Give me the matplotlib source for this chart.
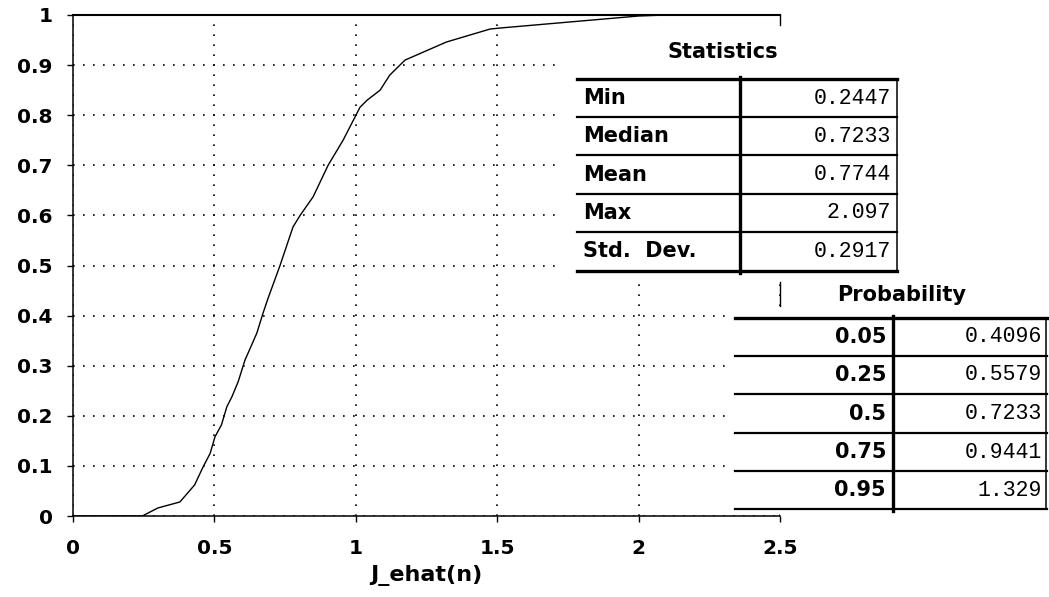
import numpy as np
import matplotlib.pyplot as plt
from matplotlib.patches import Rectangle
from matplotlib.lines import Line2D

x_vals = [0, 0.245, 0.30, 0.378, 0.43, 0.46, 0.485, 0.502, 0.525, 0.544, 0.562,
          0.584, 0.608, 0.65, 0.672, 0.69, 0.732, 0.778, 0.803, 0.849, 0.902,
          0.955, 1.015, 1.04, 1.086, 1.12, 1.156, 1.174, 1.32, 1.475, 1.51,
          2.0, 2.097]
y_vals = [0, 0, 0.016, 0.028, 0.062, 0.098, 0.125, 0.158, 0.182, 0.218, 0.238,
          0.268, 0.311, 0.365, 0.405, 0.435, 0.50, 0.577, 0.60, 0.637, 0.70,
          0.75, 0.816, 0.83, 0.85, 0.88, 0.90, 0.91, 0.946, 0.972, 0.974,
          0.998, 1.0]

x_ticks = [0, 0.5, 1, 1.5, 2, 2.5]
x_ticklabels = ['0', '0.5', '1', '1.5', '2', '2.5']
y_ticks = [0, 0.1, 0.2, 0.3, 0.4, 0.5, 0.6, 0.7, 0.8, 0.9, 1]
y_ticklabels = ['0', '0.1', '0.2', '0.3', '0.4', '0.5', '0.6', '0.7', '0.8', '0.9', '1']

stat_names = ['Min', 'Median', 'Mean', 'Max', 'Std.  Dev.']
stat_values = ['0.2447', '0.7233', '0.7744', '2.097', '0.2917']
prob_levels = ['0.05', '0.25', '0.5', '0.75', '0.95']
prob_values = ['0.4096', '0.5579', '0.7233', '0.9441', '1.329']

W, H = 1049, 597
fig = plt.figure(figsize=(W / 100, H / 100), dpi=100)
ax = fig.add_axes([73 / W, 1 - 516 / H, 707 / W, 501 / H])

ax.plot(x_vals, y_vals, color='black', lw=1.0, zorder=3)
ax.set_xlim(0, 2.5)
ax.set_ylim(0, 1)
ax.set_xticks(x_ticks)
ax.set_xticklabels(x_ticklabels)
ax.set_yticks(y_ticks)
ax.set_yticklabels(y_ticklabels)
ax.grid(True, color='black', lw=1.2, linestyle=(0, (1, 5)))
ax.tick_params(axis='both', direction='out', length=4.5, width=1.0,
               labelsize=14.5, colors='black')
ax.tick_params(axis='x', pad=12)
ax.tick_params(axis='y', pad=10)
for lab in ax.get_xticklabels() + ax.get_yticklabels():
    lab.set_fontweight('bold')
ax.spines['left'].set_linewidth(1.1)
ax.spines['bottom'].set_linewidth(1.1)
ax.spines['top'].set_linewidth(1.5)
ax.spines['right'].set_visible(False)
ax.set_xlabel('J_ehat(n)', fontsize=16, fontweight='bold')
ax.xaxis.set_label_coords(0.5, -0.098)
ax.xaxis.label.set_va('top')

# short pieces of the right frame that show between the tables
for y0, y1 in [(15, 25), (282, 306)]:
    ax.plot([1, 1], [(516 - y0) / 501, (516 - y1) / 501], color='black',
            lw=1.0, transform=ax.transAxes, clip_on=False, zorder=2.5)


def fx(px):
    return px / W


def fy(py):
    return 1 - py / H


def hline(x0, x1, y, lw):
    fig.add_artist(Line2D([fx(x0), fx(x1)], [fy(y), fy(y)], color='black',
                          lw=lw, transform=fig.transFigure, zorder=5))


def vline(x, y0, y1, lw):
    fig.add_artist(Line2D([fx(x), fx(x)], [fy(y0), fy(y1)], color='black',
                          lw=lw, transform=fig.transFigure, zorder=5))


def white_box(x0, y0, x1, y1):
    # sits above the grid but below the curve
    ax.add_patch(Rectangle((fx(x0), fy(y1)), fx(x1) - fx(x0), fy(y0) - fy(y1),
                           transform=fig.transFigure, facecolor='white',
                           edgecolor='none', zorder=1.8, clip_on=False))


# Statistics table
white_box(563, 16, 900, 284)
fig.text(fx(723), fy(52), 'Statistics', ha='center', va='center',
         fontsize=15, fontweight='bold', zorder=6)
s_rows = [79, 117, 155, 194, 232, 271]
for i, yy in enumerate(s_rows):
    hline(577, 897, yy, 2.4 if i in (0, len(s_rows) - 1) else 1.6)
vline(740, 77, 273, 2.4)
vline(897, 79, 271, 1.1)
for i, (name, val) in enumerate(zip(stat_names, stat_values)):
    yc = (s_rows[i] + s_rows[i + 1]) / 2
    fig.text(fx(583), fy(yc), name, ha='left', va='center', fontsize=15,
             fontweight='bold', zorder=6)
    fig.text(fx(891), fy(yc), val, ha='right', va='center', fontsize=15.5,
             family='Liberation Mono', zorder=6)

# Probability table
white_box(728, 308, 1049, 511)
fig.text(fx(902), fy(295), 'Probability', ha='center', va='center',
         fontsize=15, fontweight='bold', zorder=6)
p_rows = [318, 356, 394, 433, 471, 509]
for i, yy in enumerate(p_rows):
    hline(735, 1047, yy, 2.4 if i == 0 else 1.6)
vline(893, 316, 511, 2.4)
vline(1046, 318, 509, 1.1)
for i, (lev, val) in enumerate(zip(prob_levels, prob_values)):
    yc = (p_rows[i] + p_rows[i + 1]) / 2
    fig.text(fx(886), fy(yc), lev, ha='right', va='center', fontsize=15,
             fontweight='bold', zorder=6)
    fig.text(fx(1042), fy(yc), val, ha='right', va='center', fontsize=15.5,
             family='Liberation Mono', zorder=6)

fig.savefig('out.png', dpi=100)
